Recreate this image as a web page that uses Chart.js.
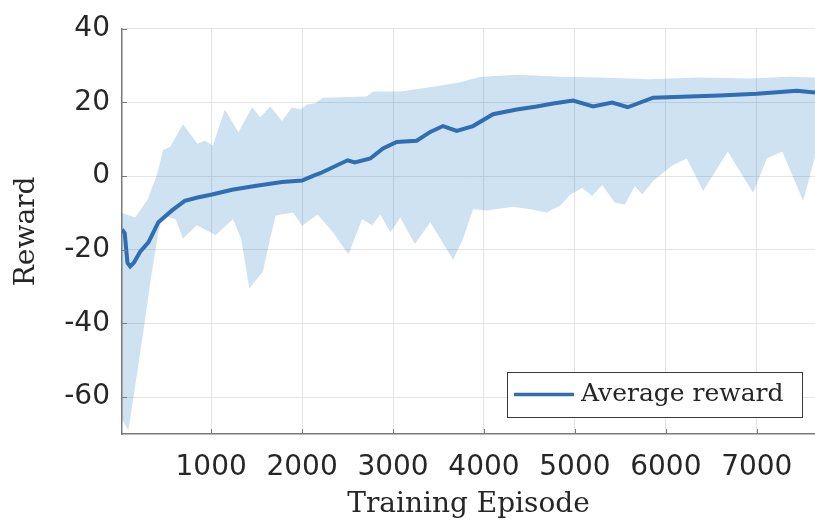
<!DOCTYPE html>
<html>
<head>
<meta charset="utf-8">
<script src="https://cdn.jsdelivr.net/npm/chart.js@4/dist/chart.umd.min.js"></script>
<style>
  html, body { margin: 0; padding: 0; background: #fff; }
  #wrap { width: 815px; height: 528px; }
</style>
</head>
<body>
<div id="wrap"><canvas id="rewardChart" width="815" height="528"></canvas></div>
<script>
// Average reward over training, with the shaded min/max band

const meanEpisodes = [20, 50, 80, 110, 150, 220, 310, 350, 420, 570, 710, 850, 1010, 1230, 1480, 1780,
  2000, 2140, 2200, 2500, 2580, 2750, 2890, 3040, 3260, 3410, 3550, 3700, 3880, 4100, 4360, 4580,
  4760, 4980, 5200, 5410, 5580, 5860, 6260, 6590, 7000, 7440, 7640];
const meanReward = [-14.5, -15.5, -23.5, -24.5, -23.5, -20.5, -18, -16, -12.5, -9.3, -6.7, -5.8, -5, -3.7, -2.7, -1.6,
  -1.2, 0.3, 0.8, 4.3, 3.7, 4.8, 7.5, 9.3, 9.6, 12, 13.6, 12.3, 13.6, 16.8, 18.1, 18.9,
  19.7, 20.5, 18.9, 20, 18.7, 21.3, 21.6, 21.9, 22.4, 23.2, 22.7];

const upperEpisodes = [20, 165, 300, 410, 470, 550, 690, 850, 930, 1020, 1150, 1300, 1450, 1540, 1650, 1780,
  1890, 1980, 2060, 2140, 2230, 2710, 2780, 3080, 3440, 3700, 3960, 4360, 4840, 5280, 5820, 6370,
  6920, 7360, 7640];
const upperReward = [-10, -11.2, -6.4, 0.8, 7, 8, 14.1, 8.8, 9.6, 8.3, 18.1, 11.9, 18.7, 16, 18.9, 15,
  18.7, 18.1, 19.5, 19.7, 21.3, 21.6, 23, 23, 24.3, 25.3, 26.9, 27.5, 27, 26.8, 26.3, 26.8,
  26.5, 27, 26.8];

const lowerEpisodes = [20, 90, 165, 250, 330, 420, 470, 610, 690, 840, 1050, 1240, 1330, 1420, 1570, 1640,
  1710, 1900, 2000, 2170, 2340, 2510, 2660, 2770, 2860, 2970, 3080, 3240, 3410, 3520, 3660, 3770,
  3880, 4030, 4320, 4510, 4690, 4840, 4950, 5080, 5190, 5300, 5440, 5550, 5660, 5740, 5860, 6070,
  6230, 6410, 6680, 6960, 7110, 7280, 7510, 7640];
const lowerReward = [-66, -69, -57, -43, -29, -15, -10.7, -11.7, -17, -13.3, -16, -11.7, -17, -30.4, -25.9, -17.9,
  -10.7, -9.9, -13.5, -10.4, -15.2, -21.3, -11.7, -13.3, -10.4, -15.2, -11.2, -18.4, -12.5, -17, -22.7, -17,
  -9, -9.3, -8.3, -9, -9.9, -8, -5, -3.2, -5.3, -2.4, -7.2, -7.7, -2.7, -5, -1.3, 2.9,
  4.8, -4, 6.7, -4.5, 4.8, 6.7, -6.7, 5.3];

const xTicks = [1000, 2000, 3000, 4000, 5000, 6000, 7000];
const yTicks = [-60, -40, -20, 0, 20, 40];

const pts = (xs, ys) => xs.map((x, i) => ({ x, y: ys[i] }));

const LINE_BLUE = '#2f6db4';
const AXIS_GREY = '#7a7a7a';

// small tick marks pointing into the plot, MATLAB style
const innerTicks = {
  id: 'innerTicks',
  afterDatasetsDraw(chart) {
    const { ctx, chartArea: a, scales: { x, y } } = chart;
    ctx.save();
    ctx.strokeStyle = AXIS_GREY;
    ctx.lineWidth = 1;
    ctx.beginPath();
    yTicks.forEach(v => {
      const py = Math.round(y.getPixelForValue(v)) + 0.5;
      ctx.moveTo(a.left, py);
      ctx.lineTo(a.left + 5, py);
    });
    xTicks.forEach(v => {
      const px = Math.round(x.getPixelForValue(v)) + 0.5;
      ctx.moveTo(px, a.bottom);
      ctx.lineTo(px, a.bottom - 5);
    });
    ctx.stroke();
    ctx.restore();
  }
};

// boxed legend in the lower right corner of the plot
const boxLegend = {
  id: 'boxLegend',
  afterDraw(chart) {
    const { ctx, chartArea: a } = chart;
    const ds = chart.data.datasets[0];
    const w = 295, h = 45;
    const bx = a.right - 13 - w;
    const by = a.bottom - 17 - h;
    ctx.save();
    ctx.fillStyle = '#fff';
    ctx.fillRect(bx, by, w, h);
    ctx.strokeStyle = '#3a3a3a';
    ctx.lineWidth = 1;
    ctx.strokeRect(bx + 0.5, by + 0.5, w, h);
    ctx.strokeStyle = ds.borderColor;
    ctx.lineWidth = 3.5;
    ctx.beginPath();
    ctx.moveTo(bx + 7, by + h / 2);
    ctx.lineTo(bx + 67, by + h / 2);
    ctx.stroke();
    ctx.fillStyle = '#262626';
    ctx.font = '25px "DejaVu Serif"';
    ctx.textBaseline = 'middle';
    ctx.fillText(ds.label, bx + 74, by + h / 2);
    ctx.restore();
  }
};

new Chart(document.getElementById('rewardChart'), {
  type: 'line',
  data: {
    datasets: [
      {
        label: 'Average reward',
        data: pts(meanEpisodes, meanReward),
        borderColor: LINE_BLUE,
        borderWidth: 4,
        pointRadius: 0,
        tension: 0,
        fill: false
      },
      {
        label: 'upper',
        data: pts(upperEpisodes, upperReward),
        borderWidth: 0,
        borderColor: 'rgba(0,0,0,0)',
        backgroundColor: 'rgba(10,110,190,0.2)',
        pointRadius: 0,
        tension: 0,
        fill: { target: 2 }
      },
      {
        label: 'lower',
        data: pts(lowerEpisodes, lowerReward),
        borderWidth: 0,
        borderColor: 'rgba(0,0,0,0)',
        pointRadius: 0,
        tension: 0,
        fill: false
      }
    ]
  },
  options: {
    responsive: false,
    animation: false,
    layout: { padding: { top: 22, right: 0, left: 0, bottom: 0 } },
    plugins: {
      legend: { display: false },
      tooltip: { enabled: false }
    },
    scales: {
      x: {
        type: 'linear',
        min: 20,
        max: 7640,
        afterBuildTicks: s => { s.ticks = xTicks.map(value => ({ value })); },
        afterFit: s => { s.height = 94; },
        grid: { color: '#e4e4e4', drawTicks: false },
        border: { color: AXIS_GREY, width: 1.5 },
        ticks: {
          color: '#262626',
          font: { family: 'DejaVu Sans', size: 28 },
          padding: 17,
          maxRotation: 0,
          callback: v => String(v)
        },
        title: {
          display: true,
          text: 'Training Episode',
          color: '#262626',
          font: { family: 'DejaVu Serif', size: 28 },
          padding: { top: 0, bottom: 6 }
        }
      },
      y: {
        min: -70,
        max: 40,
        afterBuildTicks: s => { s.ticks = yTicks.map(value => ({ value })); },
        afterFit: s => { s.width = 122; },
        grid: { color: '#e4e4e4', drawTicks: false },
        border: { color: AXIS_GREY, width: 1.5 },
        ticks: {
          color: '#262626',
          font: { family: 'DejaVu Sans', size: 28 },
          padding: 12
        },
        title: {
          display: true,
          text: 'Reward',
          color: '#262626',
          font: { family: 'DejaVu Serif', size: 28 },
          padding: { top: 10, bottom: 0 }
        }
      }
    }
  },
  plugins: [innerTicks, boxLegend]
});
</script>
</body>
</html>
